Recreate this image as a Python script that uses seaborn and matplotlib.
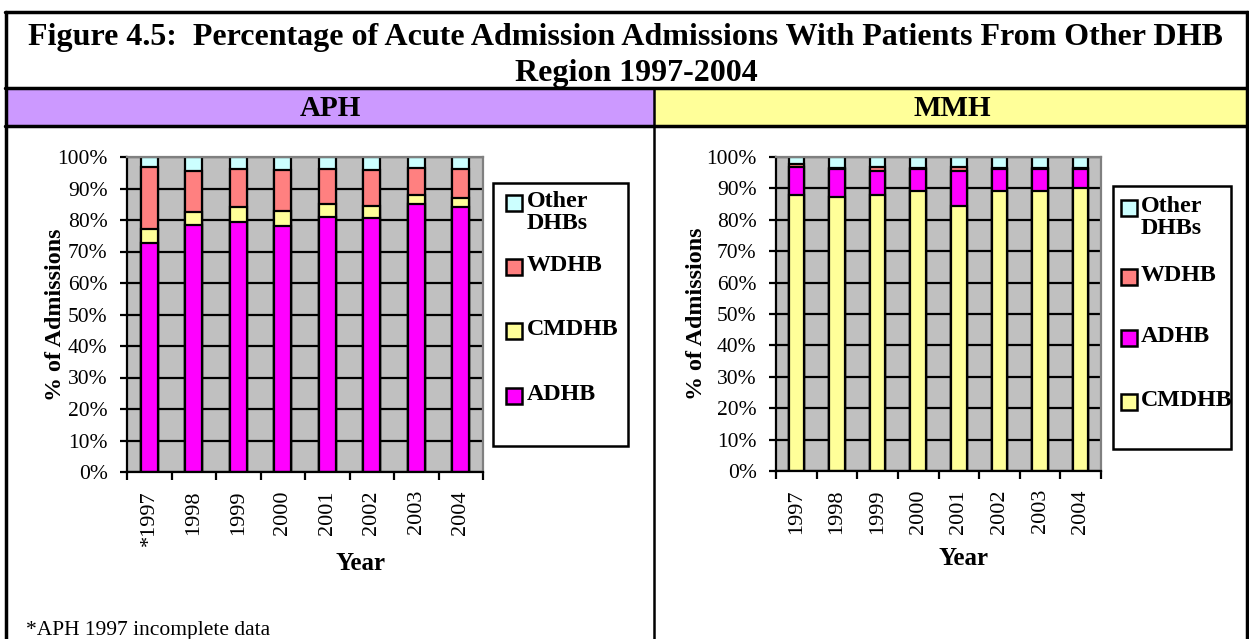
import numpy as np
import pandas as pd
import matplotlib.pyplot as plt
from matplotlib.patches import Rectangle
import seaborn as sns

# Data (percent of admissions)
years = ["1997", "1998", "1999", "2000", "2001", "2002", "2003", "2004"]
aph_year_labels = ["*1997", "1998", "1999", "2000", "2001", "2002", "2003", "2004"]

aph_adhb = [72.8, 78.3, 79.4, 78.0, 80.8, 80.5, 85.2, 84.0]
aph_cmdhb = [4.2, 4.2, 4.7, 4.8, 4.2, 3.8, 2.8, 3.0]
aph_wdhb = [19.8, 13.1, 12.0, 13.0, 11.3, 11.5, 8.5, 9.1]

mmh_cmdhb = [88.0, 87.4, 88.0, 89.3, 84.3, 89.3, 89.3, 90.0]
mmh_adhb = [8.8, 8.8, 7.5, 6.9, 11.2, 6.9, 6.9, 6.2]
mmh_wdhb = [1.0, 0.4, 1.2, 0.4, 1.2, 0.4, 0.4, 0.4]

colors = {"ADHB": "#FF00FF", "CMDHB": "#FFFF99", "WDHB": "#FF8080", "Other DHBs": "#CCFFFF"}

sns.set_theme(style="ticks", rc={"axes.facecolor": "#C0C0C0", "text.color": "black",
                                 "axes.labelcolor": "black", "xtick.color": "black",
                                 "ytick.color": "black"})
plt.rcParams["font.family"] = ["Liberation Serif", "DejaVu Serif"]

W, H = 1249, 639
fig = plt.figure(figsize=(W / 100, H / 100), dpi=100)

# overlay in pixel coordinates for the table frame, headers and legends
ov = fig.add_axes([0, 0, 1, 1], zorder=0)
ov.set_xlim(0, W)
ov.set_ylim(H, 0)
ov.axis("off")
ov.patch.set_alpha(0)

ov.add_patch(Rectangle((5, 88), 649, 38, facecolor="#CC99FF", edgecolor="none"))
ov.add_patch(Rectangle((654, 88), 595, 38, facecolor="#FFFF99", edgecolor="none"))
for y in (12, 88, 126):
    ov.plot([5, 1248], [y, y], color="black", lw=2.5)
ov.plot([6, 6], [12, H], color="black", lw=2.5)
ov.plot([1247, 1247], [12, H], color="black", lw=2.5)
ov.plot([654, 654], [88, H], color="black", lw=1.8)

ov.text(625, 37, "Figure 4.5:  Percentage of Acute Admission Admissions With Patients From Other DHB",
        ha="center", va="center", fontsize=23, fontweight="bold")
ov.text(636, 73, "Region 1997-2004", ha="center", va="center", fontsize=23, fontweight="bold")
ov.text(330, 108, "APH", ha="center", va="center", fontsize=21, fontweight="bold")
ov.text(952, 108, "MMH", ha="center", va="center", fontsize=21, fontweight="bold")
ov.text(26, 630, "*APH 1997 incomplete data", ha="left", va="center", fontsize=15.5)


def draw_legend(box, sq_x, txt_x, entries):
    x0, y0, x1, y1 = box
    ov.add_patch(Rectangle((x0, y0), x1 - x0, y1 - y0, facecolor="white", edgecolor="black", lw=1.8))
    for label, yc in entries:
        ov.add_patch(Rectangle((sq_x, yc - 8), 16, 16, facecolor=colors[label], edgecolor="black", lw=1.8))
        text = "Other\nDHBs" if label == "Other DHBs" else label
        ov.text(txt_x, yc - 12, text, ha="left", va="top", fontsize=17.3, fontweight="bold",
                linespacing=1.05)


draw_legend((493, 183, 628, 446), 506, 527,
            [("Other DHBs", 203), ("WDHB", 267), ("CMDHB", 331), ("ADHB", 396)])
draw_legend((1113, 186, 1231, 449), 1121, 1141,
            [("Other DHBs", 208), ("WDHB", 277), ("ADHB", 338), ("CMDHB", 402)])


def stacked(ax, series, xlabels, ylabel_x, xlabel_xy):
    # draw cumulative totals from the top down so lower segments cover upper ones
    names = [n for n, _ in series]
    vals = np.array([v for _, v in series])
    cum = np.cumsum(vals, axis=0)
    total = np.full(len(years), 100.0)
    layers = [("Other DHBs", total)] + [(names[i], cum[i]) for i in range(len(names) - 1, -1, -1)]
    for name, top in layers:
        df = pd.DataFrame({"year": years, "pct": top})
        sns.barplot(data=df, x="year", y="pct", color=colors[name], saturation=1,
                    width=0.38, edgecolor="black", linewidth=1.6, errorbar=None, ax=ax)
    ax.set_ylim(0, 100)
    ax.set_xlim(-0.5, len(years) - 0.5)
    ax.set_yticks(np.arange(0, 101, 10))
    ax.set_yticklabels([f"{v}%" for v in range(0, 101, 10)], fontsize=15.5)
    ax.yaxis.grid(True, color="black", lw=1.6)
    ax.xaxis.grid(False)
    ax.set_axisbelow(True)
    ax.set_xticks(range(len(years)))
    ax.set_xticklabels(xlabels, rotation=90, fontsize=16)
    ax.set_xticks(np.arange(-0.5, len(years), 1), minor=True)
    ax.tick_params(axis="x", which="major", length=0, pad=13)
    ax.tick_params(axis="x", which="minor", length=6, width=1.6, color="black", direction="out")
    ax.tick_params(axis="y", length=5, width=1.6, color="black", direction="out", pad=9)
    for s in ("left", "bottom"):
        ax.spines[s].set_color("black")
        ax.spines[s].set_linewidth(1.6)
    for s in ("top", "right"):
        ax.spines[s].set_visible(True)
        ax.spines[s].set_color("#808080")
        ax.spines[s].set_linewidth(1.6)
    ax.set_ylabel("% of Admissions", fontsize=17.3, fontweight="bold")
    ax.yaxis.set_label_coords(ylabel_x, 0.5)
    ax.set_xlabel("Year", fontsize=18, fontweight="bold")
    ax.xaxis.set_label_coords(*xlabel_xy)


ax1 = fig.add_axes([127 / W, 1 - 472 / H, 356 / W, 315 / H], zorder=1)
stacked(ax1, [("ADHB", aph_adhb), ("CMDHB", aph_cmdhb), ("WDHB", aph_wdhb)],
        aph_year_labels, -0.171, (0.657, -0.254))

ax2 = fig.add_axes([776 / W, 1 - 471 / H, 325 / W, 314 / H], zorder=1)
stacked(ax2, [("CMDHB", mmh_cmdhb), ("ADHB", mmh_adhb), ("WDHB", mmh_wdhb)],
        years, -0.212, (0.578, -0.242))

fig.savefig("out.png", dpi=100)
